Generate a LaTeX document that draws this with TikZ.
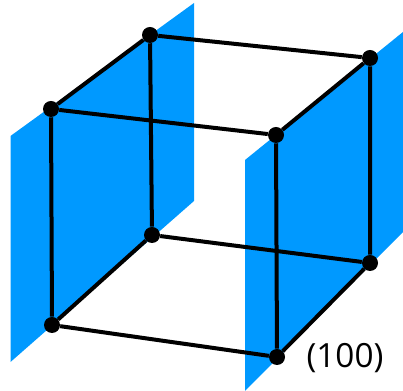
\documentclass[tikz,border=0pt]{standalone}
\usepackage{fontspec}
\setmainfont{Open Sans}
\definecolor{planeblue}{HTML}{0099FF}
\tikzset{
  vertex/.style={circle,fill=black,inner sep=0pt,minimum size=12pt},
  edge/.style={draw=black,line width=3pt},
  plane/.style={fill=planeblue,draw=none}
}
\newcommand{\px}[2]{({#1*0.75pt},{(391-#2)*0.75pt})}
\begin{document}
\begin{tikzpicture}[x=1pt,y=1pt]
\useasboundingbox \px{0}{0} rectangle \px{403}{391};
\fill[plane] \px{10.5}{136} -- \px{194}{3} -- \px{194}{201} -- \px{10.5}{362} -- cycle;
\fill[plane] \px{245}{160} -- \px{403}{32} -- \px{403}{232} -- \px{245}{391} -- cycle;
\node[vertex] (a) at \px{51}{109} {};
\node[vertex] (b) at \px{150}{35} {};
\node[vertex] (c) at \px{370}{58} {};
\node[vertex] (d) at \px{276}{135} {};
\node[vertex] (e) at \px{52}{325} {};
\node[vertex] (f) at \px{152}{235} {};
\node[vertex] (g) at \px{370}{263} {};
\node[vertex] (h) at \px{277}{357} {};
\draw[edge] (a)--(b) (b)--(c) (c)--(d) (d)--(a);
\draw[edge] (e)--(f) (f)--(g) (g)--(h) (h)--(e);
\draw[edge] (a)--(e) (b)--(f) (c)--(g) (d)--(h);
\node[font=\fontsize{25}{28}\selectfont,anchor=center,inner sep=0pt] (lbl) at \px{345}{358} {(100)};
\end{tikzpicture}
\end{document}
